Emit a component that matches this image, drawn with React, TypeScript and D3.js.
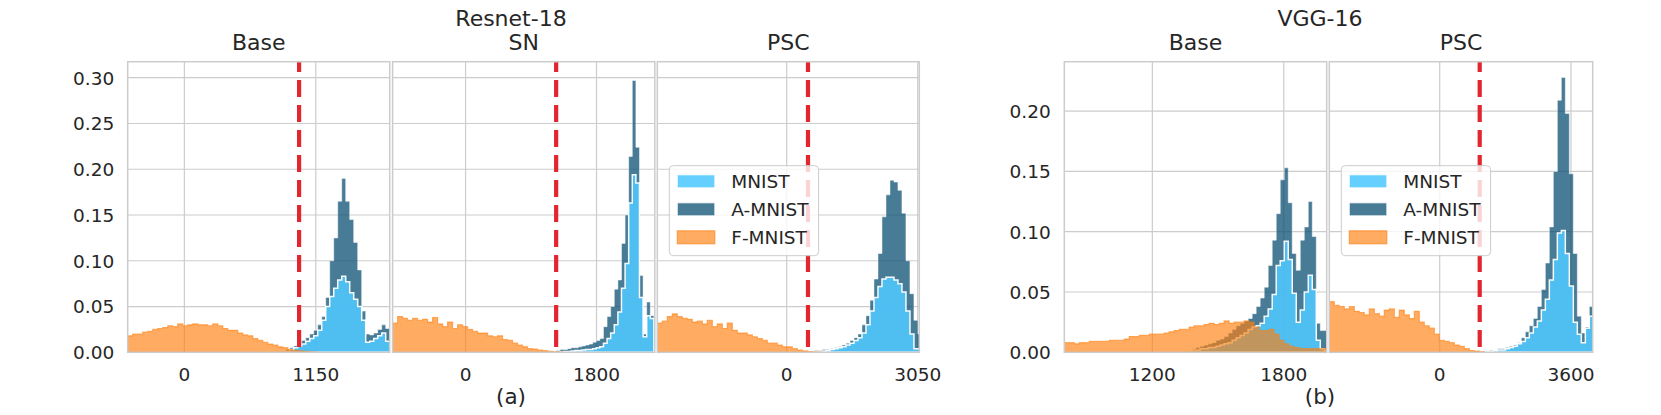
import React from "react";
import * as d3 from "d3";

const W = 1661;
const H = 415;
const TOP = 61.7;
const BOTTOM = 352.3;
const FONT = "DejaVu Sans";
const TEXT = "#262626";

// ---- Resnet-18 / Base ----
const resBaseF = [0.018, 0.020, 0.020, 0.022, 0.023, 0.025, 0.026, 0.027, 0.029, 0.028, 0.031, 0.029, 0.030, 0.031, 0.030, 0.030, 0.029, 0.031, 0.029, 0.026, 0.024, 0.024, 0.021, 0.019, 0.018, 0.015, 0.013, 0.011, 0.009, 0.008, 0.006, 0.005, 0.003, 0.002, 0.0015, 0.001, 0.0006, 0.0003];
const resBaseM = [0, 0.001, 0.003, 0.005, 0.007, 0.009, 0.012, 0.015, 0.018, 0.024, 0.035, 0.050, 0.061, 0.070, 0.079, 0.083, 0.077, 0.065, 0.058, 0.050, 0.035, 0.011, 0.012, 0.015, 0.018, 0.021, 0.012];
const resBaseA = [0.001, 0.003, 0.005, 0.007, 0.010, 0.013, 0.016, 0.020, 0.024, 0.030, 0.039, 0.060, 0.100, 0.125, 0.165, 0.190, 0.165, 0.145, 0.120, 0.090, 0.045, 0.020, 0.019, 0.021, 0.025, 0.030, 0.026];

// ---- Resnet-18 / SN ----
const resSnF = [0.032, 0.039, 0.037, 0.035, 0.037, 0.035, 0.036, 0.033, 0.038, 0.031, 0.028, 0.033, 0.026, 0.030, 0.028, 0.025, 0.023, 0.021, 0.021, 0.018, 0.017, 0.018, 0.014, 0.013, 0.010, 0.008, 0.006, 0.004, 0.0035, 0.0025, 0.0018, 0.001, 0.0005, 0.0002];
const resSnM = [0, 0.0005, 0.001, 0.001, 0.0015, 0.002, 0.002, 0.0025, 0.003, 0.003, 0.004, 0.005, 0.006, 0.010, 0.015, 0.021, 0.030, 0.044, 0.070, 0.097, 0.163, 0.194, 0.185, 0.060, 0.017, 0.040, 0.037];
const resSnA = [0.002, 0.003, 0.003, 0.004, 0.005, 0.005, 0.006, 0.007, 0.008, 0.009, 0.011, 0.013, 0.015, 0.028, 0.039, 0.050, 0.069, 0.079, 0.119, 0.150, 0.214, 0.297, 0.224, 0.084, 0.020, 0.055, 0.040];

// ---- Resnet-18 / PSC ----
const resPscF = [0.032, 0.034, 0.039, 0.042, 0.039, 0.037, 0.036, 0.033, 0.034, 0.031, 0.035, 0.028, 0.031, 0.026, 0.032, 0.024, 0.021, 0.021, 0.019, 0.017, 0.015, 0.013, 0.010, 0.010, 0.008, 0.006, 0.006, 0.004, 0.0025, 0.0015, 0.0008, 0.0004, 0.0002];
const resPscM = [0.0005, 0.001, 0.001, 0.0015, 0.002, 0.003, 0.004, 0.005, 0.006, 0.008, 0.010, 0.013, 0.016, 0.021, 0.030, 0.045, 0.060, 0.072, 0.080, 0.082, 0.082, 0.079, 0.075, 0.066, 0.045, 0.020, 0.004, 0.004];
const resPscA = [0.001, 0.002, 0.002, 0.003, 0.003, 0.004, 0.005, 0.006, 0.008, 0.010, 0.013, 0.016, 0.020, 0.030, 0.040, 0.057, 0.080, 0.108, 0.148, 0.172, 0.188, 0.186, 0.177, 0.152, 0.100, 0.064, 0.035, 0.020];

// ---- VGG-16 / Base ----
const vggBaseF = [0.008, 0.008, 0.007, 0.008, 0.008, 0.009, 0.009, 0.009, 0.009, 0.010, 0.010, 0.010, 0.011, 0.013, 0.013, 0.014, 0.014, 0.015, 0.015, 0.015, 0.016, 0.017, 0.018, 0.019, 0.019, 0.021, 0.022, 0.022, 0.023, 0.024, 0.023, 0.024, 0.026, 0.024, 0.025, 0.025, 0.026, 0.025, 0.021, 0.018, 0.018, 0.019, 0.015, 0.010, 0.007, 0.005, 0.004, 0.003, 0.003, 0.003, 0.003, 0.003, 0.003];
const vggBaseM = [0.0005, 0.001, 0.001, 0.0015, 0.002, 0.002, 0.003, 0.003, 0.004, 0.004, 0.005, 0.006, 0.007, 0.008, 0.010, 0.012, 0.014, 0.016, 0.019, 0.021, 0.022, 0.024, 0.030, 0.036, 0.048, 0.072, 0.076, 0.092, 0.077, 0.049, 0.025, 0.035, 0.050, 0.064, 0.052, 0.010, 0.003, 0.002];
const vggBaseA = [0.001, 0.001, 0.0015, 0.002, 0.003, 0.004, 0.005, 0.006, 0.007, 0.008, 0.010, 0.011, 0.013, 0.016, 0.019, 0.022, 0.024, 0.026, 0.028, 0.032, 0.038, 0.045, 0.054, 0.072, 0.093, 0.115, 0.143, 0.153, 0.124, 0.082, 0.068, 0.093, 0.104, 0.125, 0.096, 0.024, 0.018, 0.018];

// ---- VGG-16 / PSC ----
const vggPscF = [0.042, 0.039, 0.038, 0.036, 0.038, 0.034, 0.033, 0.031, 0.036, 0.032, 0.030, 0.035, 0.036, 0.029, 0.035, 0.031, 0.028, 0.034, 0.025, 0.022, 0.020, 0.015, 0.010, 0.009, 0.008, 0.006, 0.005, 0.003, 0.0015, 0.001, 0.0005];
const vggPscM = [0.0005, 0.001, 0.001, 0.0015, 0.002, 0.002, 0.003, 0.004, 0.005, 0.007, 0.009, 0.012, 0.016, 0.021, 0.026, 0.035, 0.044, 0.060, 0.077, 0.099, 0.101, 0.082, 0.055, 0.025, 0.015, 0.008, 0.020, 0.030];
const vggPscA = [0.001, 0.001, 0.002, 0.002, 0.003, 0.003, 0.004, 0.005, 0.006, 0.008, 0.012, 0.017, 0.022, 0.028, 0.038, 0.052, 0.074, 0.104, 0.150, 0.209, 0.228, 0.198, 0.148, 0.082, 0.030, 0.016, 0.021, 0.038];

const legendLabels = ["MNIST", "A-MNIST", "F-MNIST"];
const yTicksA = [0, 0.05, 0.1, 0.15, 0.2, 0.25, 0.3];
const yTicksB = [0, 0.05, 0.1, 0.15, 0.2];

type Kind = "adv" | "mnist" | "fmnist";
type Series = { kind: Kind; values: number[]; start: number; step: number };
type PanelDef = {
  title: string;
  left: number;
  width: number;
  domain: [number, number];
  ticks: number[];
  threshold: number | null;
  series: Series[];
  legend: boolean;
};

const style: Record<Kind, { fill: string; fo: number; stroke: string; so: number; sw: number }> = {
  adv: { fill: "#0b4f72", fo: 0.75, stroke: "#ffffff", so: 0.5, sw: 1 },
  mnist: { fill: "#50c8ff", fo: 0.88, stroke: "#ffffff", so: 0.95, sw: 1.5 },
  fmnist: { fill: "#ff7f0e", fo: 0.65, stroke: "#ff7f0e", so: 0.6, sw: 1.2 },
};

const groupA: PanelDef[] = [
  {
    title: "Base", left: 127.7, width: 262, domain: [-496, 1797], ticks: [0, 1150], threshold: 1004, legend: false,
    series: [
      { kind: "adv", values: resBaseA, start: 852, step: 35 },
      { kind: "mnist", values: resBaseM, start: 852, step: 35 },
      { kind: "fmnist", values: resBaseF, start: -496, step: 43.8 },
    ],
  },
  {
    title: "SN", left: 392.6, width: 262.2, domain: [-1003, 2601], ticks: [0, 1800], threshold: 1245, legend: false,
    series: [
      { kind: "adv", values: resSnA, start: 1252, step: 49.5 },
      { kind: "mnist", values: resSnM, start: 1252, step: 49.5 },
      { kind: "fmnist", values: resSnF, start: -1003, step: 68.7 },
    ],
  },
  {
    title: "PSC", left: 657.3, width: 262, domain: [-3012, 3087], ticks: [0, 3050], threshold: 496, legend: true,
    series: [
      { kind: "adv", values: resPscA, start: 542, step: 93.1 },
      { kind: "mnist", values: resPscM, start: 542, step: 93.1 },
      { kind: "fmnist", values: resPscF, start: -3012, step: 116.4 },
    ],
  },
];

const groupB: PanelDef[] = [
  {
    title: "Base", left: 1064.3, width: 262.4, domain: [798, 1996], ticks: [1200, 1800], threshold: null, legend: false,
    series: [
      { kind: "adv", values: vggBaseA, start: 1308, step: 18.3 },
      { kind: "mnist", values: vggBaseM, start: 1308, step: 18.3 },
      { kind: "fmnist", values: vggBaseF, start: 798, step: 22.8 },
    ],
  },
  {
    title: "PSC", left: 1329.3, width: 263.4, domain: [-3027, 4195], ticks: [0, 3600], threshold: 1097, legend: true,
    series: [
      { kind: "adv", values: vggPscA, start: 1141, step: 109.7 },
      { kind: "mnist", values: vggPscM, start: 1141, step: 109.7 },
      { kind: "fmnist", values: vggPscF, start: -3027, step: 137.1 },
    ],
  },
];

function stepPath(s: Series, x: d3.ScaleLinear<number, number>, y: d3.ScaleLinear<number, number>) {
  const pts: [number, number][] = [[s.start, 0]];
  s.values.forEach((v, i) => {
    pts.push([s.start + i * s.step, v]);
    pts.push([s.start + (i + 1) * s.step, v]);
  });
  pts.push([s.start + s.values.length * s.step, 0]);
  const line = d3.line<[number, number]>().x((d) => x(d[0])).y((d) => y(d[1]));
  return line(pts) + "Z";
}

const Legend = ({ x0 }: { x0: number }) => {
  const kinds: Kind[] = ["mnist", "adv", "fmnist"];
  return (
    <g>
      <rect x={x0} y={165.7} width={149.3} height={90} rx={4} fill="#ffffff" fillOpacity={0.8} stroke="#cccccc" strokeWidth={1} />
      {kinds.map((k, i) => {
        const cy = 181.3 + i * 28;
        const st = style[k];
        return (
          <g key={k}>
            <rect x={x0 + 8} y={cy - 6.5} width={37.5} height={13} fill={st.fill} fillOpacity={st.fo}
              stroke={k === "fmnist" ? st.stroke : "#ffffff"} strokeOpacity={k === "fmnist" ? 0.6 : 0.7} strokeWidth={1.2} />
            <text x={x0 + 62} y={cy + 6.8} fontSize={18.5} fill={TEXT} fontFamily={FONT}>{legendLabels[i]}</text>
          </g>
        );
      })}
    </g>
  );
};

const Panel = ({ p, yMax, yTicks, showY, id }: { p: PanelDef; yMax: number; yTicks: number[]; showY: boolean; id: string }) => {
  const x = d3.scaleLinear().domain(p.domain).range([p.left, p.left + p.width]);
  const y = d3.scaleLinear().domain([0, yMax]).range([BOTTOM, TOP]);
  const right = p.left + p.width;
  return (
    <g>
      <defs>
        <clipPath id={id}>
          <rect x={p.left} y={TOP} width={p.width} height={BOTTOM - TOP} />
        </clipPath>
      </defs>
      {yTicks.map((t) => (
        <line key={"gy" + t} x1={p.left} x2={right} y1={y(t)} y2={y(t)} stroke="#cccccc" strokeWidth={1.2} />
      ))}
      {p.ticks.map((t) => (
        <line key={"gx" + t} x1={x(t)} x2={x(t)} y1={TOP} y2={BOTTOM} stroke="#cccccc" strokeWidth={1.2} />
      ))}
      <g clipPath={`url(#${id})`}>
        {p.series.map((s) => {
          const st = style[s.kind];
          return (
            <path key={s.kind} d={stepPath(s, x, y)} fill={st.fill} fillOpacity={st.fo}
              stroke={st.stroke} strokeOpacity={st.so} strokeWidth={st.sw} strokeLinejoin="miter" />
          );
        })}
        {p.threshold !== null && (
          <line x1={x(p.threshold)} x2={x(p.threshold)} y1={TOP} y2={BOTTOM} stroke="#e3262e"
            strokeWidth={4.2} strokeDasharray="17 8" strokeDashoffset={6.7} />
        )}
      </g>
      <rect x={p.left} y={TOP} width={p.width} height={BOTTOM - TOP} fill="none" stroke="#cccccc" strokeWidth={1.5} />
      {p.ticks.map((t) => (
        <text key={"tx" + t} x={x(t)} y={BOTTOM + 28.7} textAnchor="middle" fontSize={18.5} fill={TEXT} fontFamily={FONT}>
          {d3.format("d")(t)}
        </text>
      ))}
      {showY && yTicks.map((t) => (
        <text key={"ty" + t} x={p.left - 13.5} y={y(t) + 6.8} textAnchor="end" fontSize={18.5} fill={TEXT} fontFamily={FONT}>
          {d3.format(".2f")(t)}
        </text>
      ))}
      <text x={(p.left + right) / 2} y={50} textAnchor="middle" fontSize={22} fill={TEXT} fontFamily={FONT}>{p.title}</text>
      {p.legend && <Legend x0={p.left + 12} />}
    </g>
  );
};

export default function App() {
  return (
    <div style={{ position: "absolute", left: 0, top: 0 }}>
      <svg width={W} height={H} viewBox={`0 0 ${W} ${H}`} style={{ display: "block", background: "#ffffff" }}>
        {groupA.map((p, i) => (
          <Panel key={"a" + i} id={"clipA" + i} p={p} yMax={0.3175} yTicks={yTicksA} showY={i === 0} />
        ))}
        {groupB.map((p, i) => (
          <Panel key={"b" + i} id={"clipB" + i} p={p} yMax={0.241} yTicks={yTicksB} showY={i === 0} />
        ))}
        <text x={511} y={26} textAnchor="middle" fontSize={22} fill={TEXT} fontFamily={FONT}>Resnet-18</text>
        <text x={1320} y={26} textAnchor="middle" fontSize={22} fill={TEXT} fontFamily={FONT}>VGG-16</text>
        <text x={511} y={404} textAnchor="middle" fontSize={21.5} fill={TEXT} fontFamily={FONT}>(a)</text>
        <text x={1320} y={404} textAnchor="middle" fontSize={21.5} fill={TEXT} fontFamily={FONT}>(b)</text>
      </svg>
    </div>
  );
}
